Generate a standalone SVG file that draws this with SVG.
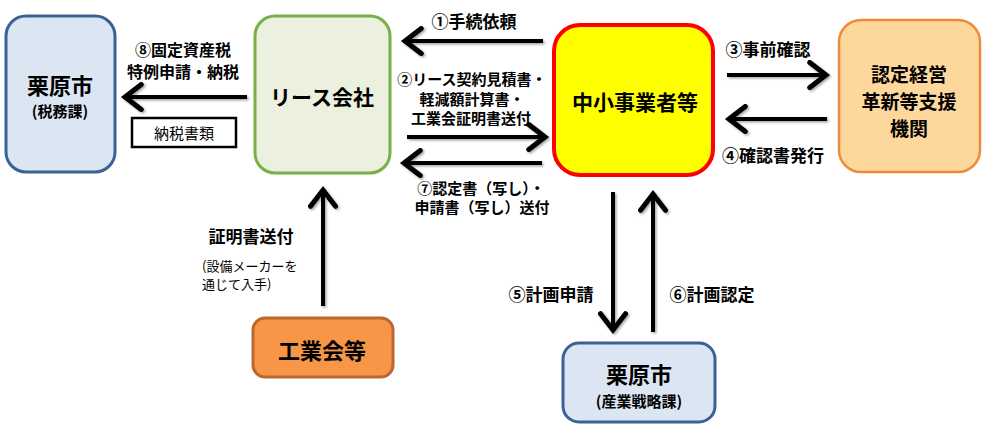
<svg xmlns="http://www.w3.org/2000/svg" width="986" height="432" viewBox="0 0 986 432">
<defs>
<style>
.t{font-family:"Noto Sans CJK JP","Noto Sans",sans-serif;fill:#000;text-anchor:middle;dominant-baseline:central}
.s{text-anchor:start}
.b{font-weight:bold}
.lbl{font-size:17px;font-weight:bold}
.arr{fill:none;stroke:#000;stroke-width:4;marker-end:url(#ah)}
</style>
<filter id="sh" x="-10%" y="-10%" width="120%" height="120%">
<feDropShadow dx="1.5" dy="1.5" stdDeviation="1" flood-color="#000" flood-opacity="0.35"/>
</filter>
<marker id="ah" markerUnits="userSpaceOnUse" markerWidth="30" markerHeight="30" viewBox="-16 -12 20 24" refX="0" refY="0" orient="auto">
<polyline points="-13,-10 0,0 -13,10" fill="none" stroke="#000" stroke-width="4" stroke-linejoin="miter" stroke-linecap="round"/>
</marker>
</defs>
<rect width="986" height="432" fill="#fff"/>

<g id="zeimu">
<rect x="6" y="16" width="109" height="156" rx="20" fill="#dce6f2" stroke="#3a6296" stroke-width="3"/>
<text class="t b" x="60" y="84" font-size="22">栗原市</text>
<text class="t b" x="60" y="110" font-size="15">(税務課)</text>
</g>

<g id="lease">
<rect x="255" y="16" width="135" height="157" rx="20" fill="#ebf1de" stroke="#77b048" stroke-width="3"/>
<text class="t b" x="322" y="96" font-size="21">リース会社</text>
</g>

<g id="chusho">
<rect x="554" y="25" width="159" height="150" rx="26" fill="#ffff00" stroke="#ff0000" stroke-width="4"/>
<text class="t b" x="635" y="101" font-size="21">中小事業者等</text>
</g>

<g id="shien">
<rect x="839" y="20" width="141" height="152" rx="22" fill="#fdd79c" stroke="#f08a3a" stroke-width="2.5"/>
<text class="t b" x="909" y="73" font-size="19">認定経営</text>
<text class="t b" x="909" y="100" font-size="19">革新等支援</text>
<text class="t b" x="909" y="127" font-size="19">機関</text>
</g>

<g id="kogyokai">
<rect x="253" y="318" width="140" height="59" rx="12" fill="#f79646" stroke="#b9692f" stroke-width="3"/>
<text class="t b" x="322" y="349" font-size="22">工業会等</text>
</g>

<g id="sangyo">
<rect x="563" y="343" width="152" height="79" rx="16" fill="#dce6f2" stroke="#3a6296" stroke-width="3"/>
<text class="t b" x="639" y="373" font-size="22">栗原市</text>
<text class="t b" x="639" y="400" font-size="15">(産業戦略課)</text>
</g>

<g id="connectors" filter="url(#sh)">
<path class="arr" d="M247,97 H125"/>
<path class="arr" d="M543,41 H405"/>
<path class="arr" d="M407,137 H545"/>
<path class="arr" d="M542,163 H404"/>
<path class="arr" d="M727,75 H826"/>
<path class="arr" d="M827,119 H729"/>
<path class="arr" d="M323,306 V190"/>
<path class="arr" d="M613,192 V330"/>
<path class="arr" d="M653,332 V194"/>
</g>

<g id="labels">
<text class="t b" x="183" y="49" font-size="16">⑧固定資産税</text>
<text class="t b" x="183" y="71" font-size="16">特例申請・納税</text>
<rect x="132" y="118" width="104" height="29" fill="#fff" stroke="#000" stroke-width="2.5"/>
<text class="t" x="184" y="132" font-size="15">納税書類</text>

<text class="t lbl" x="474" y="20">①手続依頼</text>
<text class="t b" x="472" y="78" font-size="15">②リース契約見積書・</text>
<text class="t b" x="472" y="98" font-size="15">軽減額計算書・</text>
<text class="t b" x="471" y="117" font-size="15">工業会証明書送付</text>
<text class="t b" x="481" y="187" font-size="15">⑦認定書（写し）・</text>
<text class="t b" x="482" y="206" font-size="15">申請書（写し）送付</text>

<text class="t lbl" x="768" y="48">③事前確認</text>
<text class="t lbl" x="773" y="154">④確認書発行</text>

<text class="t lbl" x="251" y="235">証明書送付</text>
<text class="t s" x="202" y="265" font-size="13">(設備メーカーを</text>
<text class="t s" x="202" y="283" font-size="13">通じて入手)</text>

<text class="t lbl" x="551" y="293">⑤計画申請</text>
<text class="t lbl" x="712" y="293">⑥計画認定</text>
</g>
</svg>
